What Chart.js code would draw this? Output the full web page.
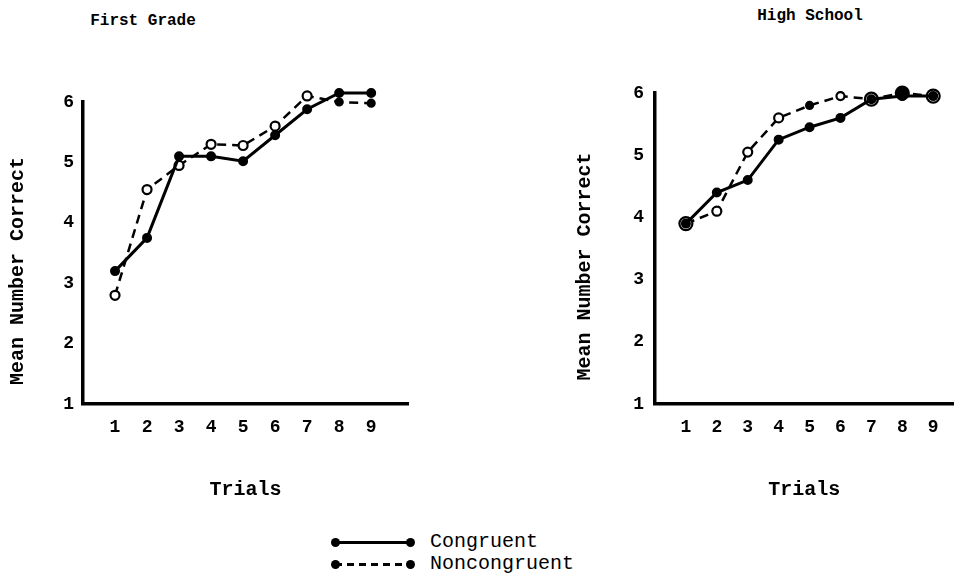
<!DOCTYPE html>
<html>
<head>
<meta charset="utf-8">
<script src="https://cdn.jsdelivr.net/npm/chart.js@4.4.1/dist/chart.umd.min.js"></script>
<style>
  body { margin: 0; width: 962px; height: 574px; overflow: hidden; background: #fff; position: relative; font-family: "Liberation Mono", monospace; }
  canvas { position: absolute; top: 0; }
  #firstGrade { left: 0; }
  #highSchool { left: 565px; }
  .panelTitle { position: absolute; transform: translate(-50%, -50%); font-size: 16px; font-weight: bold; white-space: nowrap; color: #000; }
  .legend { position: absolute; left: 331px; top: 531px; font-size: 20px; color: #000; }
  .row { position: relative; height: 22px; line-height: 22px; }
  .sample { position: absolute; left: 4px; top: 10px; width: 75px; height: 3px; }
  .sample.solid { background: #000; }
  .sample.dashed { background: repeating-linear-gradient(to right, #000 0 7px, transparent 7px 12px); }
  .dot { position: absolute; top: 7px; width: 9px; height: 9px; border-radius: 50%; background: #000; }
  .row .label { position: absolute; left: 99px; top: 0; white-space: nowrap; }
</style>
</head>
<body>
<div class="panelTitle" style="left:143px; top:21px">First Grade</div>
<div class="panelTitle" style="left:810px; top:16px">High School</div>
<canvas id="firstGrade" width="420" height="520"></canvas>
<canvas id="highSchool" width="397" height="520"></canvas>
<div class="legend">
  <div class="row"><span class="sample solid"></span><span class="dot" style="left:0"></span><span class="dot" style="left:75px"></span><span class="label">Congruent</span></div>
  <div class="row"><span class="sample dashed"></span><span class="dot" style="left:0"></span><span class="dot" style="left:75px"></span><span class="label">Noncongruent</span></div>
</div>
<script>
const trials = [1, 2, 3, 4, 5, 6, 7, 8, 9];
const yTicks = [1, 2, 3, 4, 5, 6];

const firstCongruent    = [3.2, 3.75, 5.1, 5.1, 5.02, 5.45, 5.88, 6.15, 6.15];
const firstNoncongruent = [2.8, 4.55, 4.95, 5.3, 5.28, 5.6, 6.1, 6.0, 5.98];

const highCongruent    = [3.9, 4.4, 4.6, 5.25, 5.45, 5.6, 5.9, 5.95, 5.95];
const highNoncongruent = [3.9, 4.1, 5.05, 5.6, 5.8, 5.95, 5.9, 6.0, 5.95];

const FONT = "Liberation Mono";

// points above 6 sit outside the plot box, let them still be drawn
const loosePoints = {
  id: "loosePoints",
  beforeDatasetsDraw(chart) {
    chart.$top = chart.chartArea.top;
    chart.chartArea.top -= 20;
  },
  afterDatasetsDraw(chart) {
    chart.chartArea.top = chart.$top;
  }
};

function points(values) {
  return trials.map((t, i) => ({ x: t, y: values[i] }));
}

function makeChart(id, congruent, noncongruent, opts) {
  const ctx = document.getElementById(id).getContext("2d");
  return new Chart(ctx, {
    type: "line",
    data: {
      datasets: [
        {
          label: "Noncongruent",
          data: points(noncongruent),
          borderColor: "#000",
          borderWidth: 2.5,
          borderDash: [9, 6],
          pointRadius: opts.openRadius,
          pointBackgroundColor: opts.openFill,
          pointBorderColor: "#000",
          pointBorderWidth: 2.2,
          clip: false,
          order: 2
        },
        {
          label: "Congruent",
          data: points(congruent),
          borderColor: "#000",
          borderWidth: 3,
          pointRadius: 3.5,
          pointBackgroundColor: "#000",
          pointBorderColor: "#000",
          clip: false,
          order: 1
        }
      ]
    },
    plugins: [loosePoints],
    options: {
      responsive: false,
      animation: false,
      layout: { padding: { left: 0, right: opts.padRight, top: opts.padTop, bottom: 0 } },
      plugins: {
        legend: { display: false },
        tooltip: { enabled: false }
      },
      scales: {
        x: {
          type: "linear",
          min: 0,
          max: opts.xMax,
          afterFit: s => { s.height = 116; },
          afterBuildTicks: s => { s.ticks = trials.map(v => ({ value: v })); },
          grid: { display: false, drawTicks: false },
          border: { display: true, width: 3.5, color: "#000" },
          ticks: { color: "#000", padding: 13, font: { family: FONT, size: 18, weight: "bold" } },
          title: {
            display: true,
            text: "Trials",
            color: "#000",
            font: { family: FONT, size: 20, weight: "bold" },
            padding: { top: 0, bottom: 18 }
          }
        },
        y: {
          min: 1,
          max: 6,
          afterFit: s => { s.width = opts.yWidth; },
          afterBuildTicks: s => { s.ticks = yTicks.map(v => ({ value: v })); },
          grid: { display: false, drawTicks: false },
          border: { display: true, width: 3.5, color: "#000" },
          ticks: { color: "#000", padding: opts.yTickPad, font: { family: FONT, size: 18, weight: "bold" } },
          title: {
            display: true,
            text: "Mean Number Correct   ",
            color: "#000",
            font: { family: FONT, size: 20, weight: "bold" },
            padding: { top: opts.yTitlePad, bottom: 0 }
          }
        }
      }
    }
  });
}

makeChart("firstGrade", firstCongruent, firstNoncongruent, {
  padRight: 12, padTop: 102, xMax: 10.15, yWidth: 83, yTickPad: 9, yTitlePad: 6,
  openRadius: [4.5, 4.5, 4.5, 4.5, 4.5, 4.5, 4.5, 3.5, 3.5],
  openFill: ["#fff", "#fff", "#fff", "#fff", "#fff", "#fff", "#fff", "#000", "#000"]
});

makeChart("highSchool", highCongruent, highNoncongruent, {
  padRight: 2, padTop: 93, xMax: 9.65, yWidth: 90, yTickPad: 11, yTitlePad: 8,
  openRadius: [6.5, 4.5, 4.5, 4.5, 3.5, 4, 6.5, 6.5, 6.5],
  openFill: ["#fff", "#fff", "#fff", "#fff", "#000", "#fff", "#fff", "#000", "#fff"]
});
</script>
</body>
</html>
